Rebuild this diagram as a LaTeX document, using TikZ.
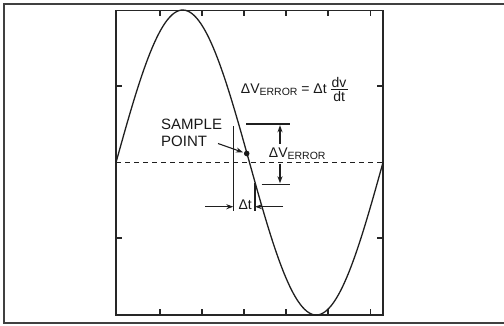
\documentclass[tikz,border=0pt]{standalone}
\usepackage{fontspec}
\setmainfont{Liberation Sans}
\usetikzlibrary{arrows.meta}
\tikzset{
  ink/.style={draw=black!88, line width=1.1pt},
  boxline/.style={draw=black!85, line width=1.6pt},
  tick/.style={draw=black!85, line width=1.2pt},
  arr/.style={ink, -{Stealth[length=7pt,width=5pt]}},
  lbl/.style={inner sep=0pt, text=black!90, font=\fontsize{14}{16}\selectfont},
  biglbl/.style={inner sep=0pt, text=black!90, font=\fontsize{15}{16.5}\selectfont, align=left},
}
\newcommand{\sbscr}[1]{\raisebox{-0.18em}{\fontsize{10.5}{12}\selectfont #1}}
\newcommand{\myfrac}[2]{\raisebox{-8.6pt}{\vbox{\hbox to 17pt{\hss#1\hss}\kern1.6pt\hrule height 0.8pt\kern1.4pt\hbox to 17pt{\hss#2\hss}}}}
\begin{document}
\begin{tikzpicture}[x=1pt,y=-1pt]
\useasboundingbox (0,0) rectangle (504,325);
% outer frame (right edge off picture)
\draw[draw=black!75, line width=1.5pt] (504,3.8) -- (3.8,3.8) -- (3.8,322.8) -- (504,322.8);
% inner box
\draw[boxline] (116,10.5) rectangle (383,314.8);
% ticks
\foreach \tx in {160,202,244,286,328,370.5}{
  \draw[tick] (\tx,10.5) -- (\tx,16);
  \draw[tick] (\tx,314.8) -- (\tx,309.3);
}
\foreach \ty in {86,238}{
  \draw[tick] (116,\ty) -- (122,\ty);
  \draw[tick] (383,\ty) -- (377,\ty);
}
% dashed axis
\draw[ink, dash pattern=on 5pt off 4pt] (116,162.5) -- (383,162.5);
% sine
\draw[ink, line width=1.3pt, domain=0:360, samples=120, smooth] plot ({116+\x/360*267}, {162.5-152.5*sin(\x)});
% sample point
\fill[black!90] (246.7,153.5) circle (2.8pt);
\coordinate (dot) at (246.7,153.5);
\node[biglbl, anchor=north west] (sp) at (161,119.3) {SAMPLE\\POINT};
\coordinate (spfrom) at (218,143.5);
\coordinate (spto) at (243,152.3);
\draw[arr] (spfrom) -- (spto);
% formula
\node[lbl, anchor=base west] (formula) at (240.7,93) {ΔV\sbscr{ERROR} = Δt \myfrac{dv}{dt}};
% delta t construction
\coordinate (vl1) at (233.3,126); \coordinate (vl2) at (233.3,210.7);
\coordinate (vr1) at (255,183); \coordinate (vr2) at (255,210.7);
\draw[ink] (vl1) -- (vl2);
\draw[ink] (vr1) -- (vr2);
\coordinate (al) at (205,206.7); \coordinate (alt) at (233.3,206.7);
\coordinate (ar) at (283,206.7); \coordinate (art) at (255,206.7);
\draw[arr] (al) -- (alt);
\draw[arr] (ar) -- (art);
\node[lbl, anchor=base west] (dt) at (238.3,209.3) {Δt};
% delta V construction
\coordinate (ht1) at (246,124); \coordinate (ht2) at (290,124);
\coordinate (hb1) at (261.7,184.3); \coordinate (hb2) at (290,184.3);
\draw[ink] (ht1) -- (ht2);
\draw[ink] (hb1) -- (hb2);
\coordinate (u1) at (280,143.5); \coordinate (u2) at (280,125.2);
\coordinate (d1) at (280,163.5); \coordinate (d2) at (280,183.3);
\draw[arr] (u1) -- (u2);
\draw[arr] (d1) -- (d2);
\node[lbl, anchor=base west] (dv) at (268.7,157.3) {ΔV\sbscr{ERROR}};
\end{tikzpicture}
\end{document}
